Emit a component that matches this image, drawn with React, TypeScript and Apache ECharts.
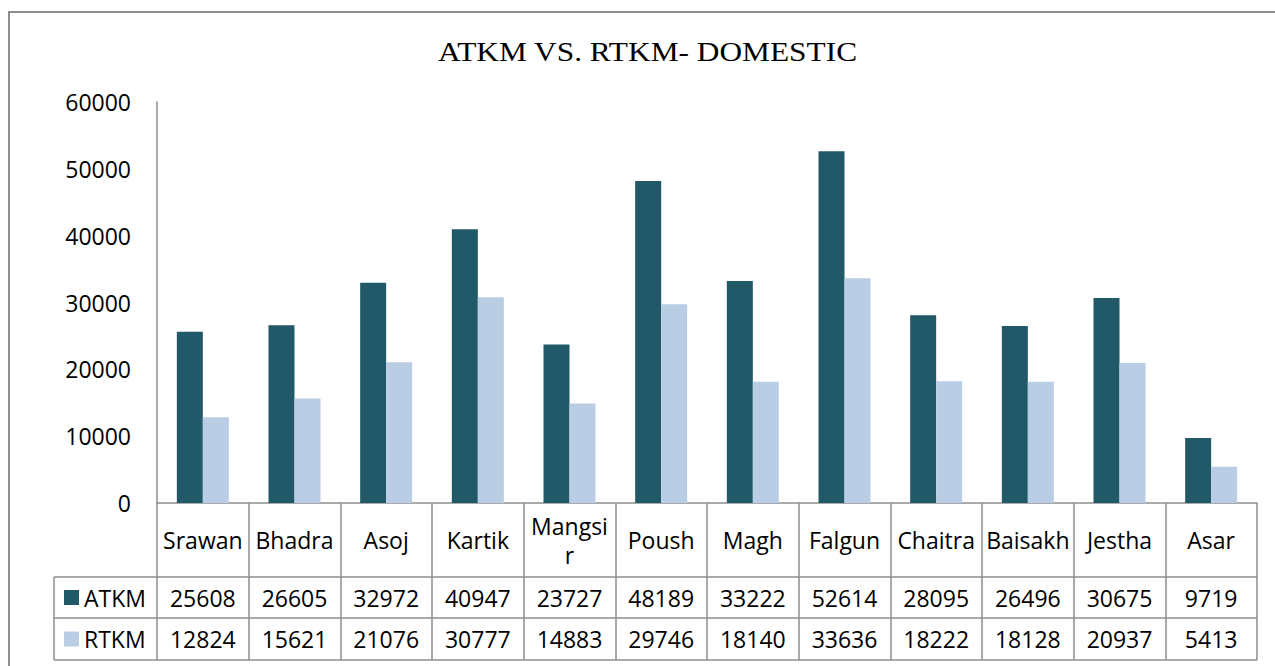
import React, { useEffect, useRef } from "react";
import * as echarts from "echarts";

const categories = ["Srawan", "Bhadra", "Asoj", "Kartik", "Mangsir", "Poush", "Magh", "Falgun", "Chaitra", "Baisakh", "Jestha", "Asar"];
const atkm = [25608, 26605, 32972, 40947, 23727, 48189, 33222, 52614, 28095, 26496, 30675, 9719];
const rtkm = [12824, 15621, 21076, 30777, 14883, 29746, 18140, 33636, 18222, 18128, 20937, 5413];
const seriesNames = ["ATKM", "RTKM"];
const wrappedLabels: Record<string, string> = { Mangsir: "Mangsi\nr" };
const titleText = "ATKM VS. RTKM- DOMESTIC";

const FONT = "'Open Sans', 'Noto Sans', sans-serif";
const LINE = "#8e8e8e";

export default function App() {
  const ref = useRef<HTMLDivElement>(null);
  useEffect(() => {
    if (!ref.current) return;
    const chart = echarts.init(ref.current, null, { renderer: "svg" });
    const W = 1275;
    const H = 666;
    const gl = 157, gr = 1257, gt = 102, gb = 503;
    const row1 = 577, row2 = 618, row3 = 660, legL = 54;
    chart.setOption({
      animation: false,
      backgroundColor: "#ffffff",
      legend: {
        data: seriesNames,
        orient: "vertical",
        left: 64,
        top: 585.5,
        padding: 0,
        itemWidth: 15,
        itemHeight: 15,
        itemGap: 17.5,
        icon: "rect",
        textStyle: { fontFamily: FONT, fontSize: 23, lineHeight: 24, color: "#000" },
      },
      grid: { left: gl, right: W - gr, top: gt, bottom: H - gb, containLabel: false },
      xAxis: [
        {
          type: "category",
          data: categories,
          position: "bottom",
          axisLine: { show: true, lineStyle: { color: LINE, width: 1.5 } },
          axisTick: { show: true, length: row3 - gb, interval: 0, lineStyle: { color: LINE, width: 1.5 } },
          axisLabel: {
            interval: 0,
            margin: (gb + row1) / 2 - gb,
            verticalAlign: "middle",
            lineHeight: 29,
            fontFamily: FONT,
            fontSize: 23,
            color: "#000",
            formatter: (v: string) => wrappedLabels[v] ?? v,
          },
        },
        {
          type: "category",
          data: atkm.map(String),
          position: "bottom",
          axisLine: { show: false },
          axisTick: { show: false },
          axisLabel: { interval: 0, margin: (row1 + row2) / 2 - gb, verticalAlign: "middle", fontFamily: FONT, fontSize: 23, color: "#000" },
        },
        {
          type: "category",
          data: rtkm.map(String),
          position: "bottom",
          axisLine: { show: false },
          axisTick: { show: false },
          axisLabel: { interval: 0, margin: (row2 + row3) / 2 - gb, verticalAlign: "middle", fontFamily: FONT, fontSize: 23, color: "#000" },
        },
      ],
      yAxis: {
        type: "value",
        min: 0,
        max: 60000,
        interval: 10000,
        axisLine: { show: true, lineStyle: { color: LINE, width: 1.5 } },
        axisTick: { show: false },
        splitLine: { show: false },
        axisLabel: { margin: 26, fontFamily: FONT, fontSize: 23, color: "#000", formatter: (v: number) => String(v) },
      },
      series: [
        { name: seriesNames[0], type: "bar", data: atkm, barWidth: 26, barGap: "0%", itemStyle: { color: "#215968" } },
        { name: seriesNames[1], type: "bar", data: rtkm, barWidth: 26, barGap: "0%", itemStyle: { color: "#B9CDE5" } },
      ],
      graphic: [
        { type: "rect", shape: { x: 9, y: 12, width: 1400, height: 800 }, style: { fill: "none", stroke: LINE, lineWidth: 2 }, silent: true },
        {
          type: "text",
          x: 647.5,
          y: 52,
          scaleX: 1.12,
          style: {
            text: titleText,
            fontFamily: "'Liberation Serif', 'Times New Roman', serif",
            fontSize: 28,
            fill: "#000",
            align: "center",
            verticalAlign: "middle",
          },
        },
        { type: "line", shape: { x1: legL, y1: row1, x2: gr, y2: row1 }, style: { stroke: LINE, lineWidth: 1.5 } },
        { type: "line", shape: { x1: legL, y1: row2, x2: gr, y2: row2 }, style: { stroke: LINE, lineWidth: 1.5 } },
        { type: "line", shape: { x1: legL, y1: row3, x2: gr, y2: row3 }, style: { stroke: LINE, lineWidth: 1.5 } },
        { type: "line", shape: { x1: legL, y1: row1, x2: legL, y2: row3 }, style: { stroke: LINE, lineWidth: 1.5 } },
      ],
    });
    return () => chart.dispose();
  }, []);
  return <div ref={ref} style={{ position: "fixed", left: 0, top: 0, width: 1275, height: 666 }} />;
}
